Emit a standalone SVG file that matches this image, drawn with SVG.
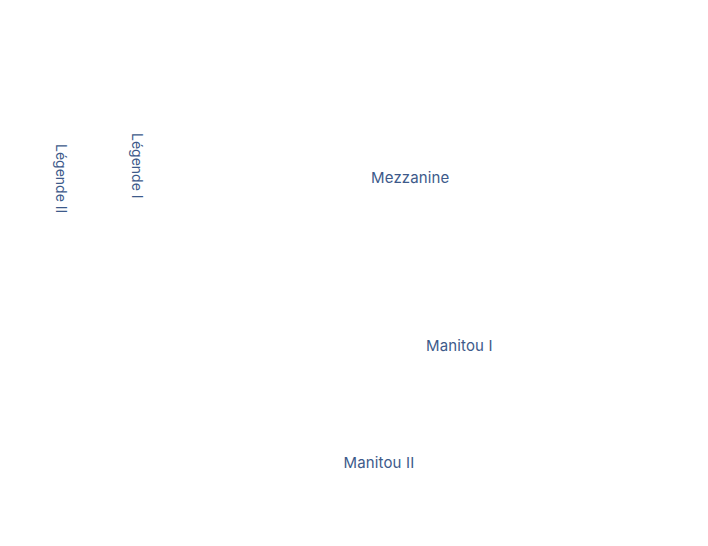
<svg xmlns="http://www.w3.org/2000/svg" width="708" height="546" viewBox="0 0 708 546">
<style>
.lbl{font-family:Inter,"Liberation Sans",sans-serif;font-size:15px;fill:#3d5a8a}
.rot{font-size:14px}
</style>
<rect width="708" height="546" fill="#ffffff"/>
<g id="connectors"></g>
<g id="legende-ii"><text class="lbl rot" transform="translate(56,144) rotate(90)">Légende II</text></g>
<g id="legende-i"><text class="lbl rot" transform="translate(131.5,133) rotate(90)">Légende I</text></g>
<g id="mezzanine"><text class="lbl" x="371" y="183" letter-spacing="0.15">Mezzanine</text></g>
<g id="manitou-i"><text class="lbl" x="426" y="350.5" letter-spacing="0.15">Manitou I</text></g>
<g id="manitou-ii"><text class="lbl" x="343.5" y="468" letter-spacing="0.15">Manitou II</text></g>
</svg>
